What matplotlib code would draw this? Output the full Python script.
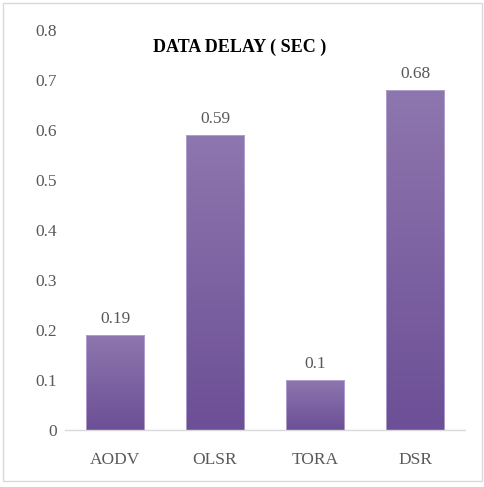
import matplotlib
matplotlib.use("Agg")
import matplotlib.pyplot as plt
import numpy as np
from matplotlib.colors import LinearSegmentedColormap
from matplotlib.patches import Rectangle

categories = ["AODV", "OLSR", "TORA", "DSR"]
values = [0.19, 0.59, 0.1, 0.68]
yticks = [0, 0.1, 0.2, 0.3, 0.4, 0.5, 0.6, 0.7, 0.8]
title = "DATA DELAY ( SEC )"

plt.rcParams['font.family'] = ['Liberation Serif', 'DejaVu Serif']
txt = '#595959'

fig = plt.figure(figsize=(4.85, 4.87), dpi=100)
ax = fig.add_axes([0.134, 0.117, 0.825, 0.821])

x = np.arange(len(categories))
bars = ax.bar(x, values, width=0.58, color='#7d62a2', edgecolor='#b9a6d4', linewidth=0.6, zorder=2)
cmap = LinearSegmentedColormap.from_list('g', ['#6c4f96', '#8e76ae'])
grad = np.linspace(0, 1, 256).reshape(-1, 1)
for b in bars:
    bx, by = b.get_x(), b.get_y()
    w, h = b.get_width(), b.get_height()
    im = ax.imshow(grad, cmap=cmap, origin='lower', aspect='auto',
                   extent=[bx, bx + w, by, by + h], zorder=2.5)
    im.set_clip_path(b)
    ax.add_patch(Rectangle((bx, by), w, h, fill=False, edgecolor='#b9a6d4', linewidth=0.6, zorder=3))

for xi, v in zip(x, values):
    ax.text(xi, v + 0.017, f"{v:g}", ha='center', va='bottom', fontsize=12.5, color=txt)

ax.set_xlim(-0.5, len(categories) - 0.5)
ax.set_ylim(0, 0.8)
ax.set_yticks(yticks)
ax.set_yticklabels([f"{t:g}" for t in yticks])
ax.set_xticks(x)
ax.set_xticklabels(categories)
ax.tick_params(axis='both', length=0, labelsize=12.5, colors=txt)
ax.tick_params(axis='y', pad=6)
ax.tick_params(axis='x', pad=16)
for s in ['top', 'right', 'left']:
    ax.spines[s].set_visible(False)
ax.spines['bottom'].set_color('#d9d9d9')
ax.spines['bottom'].set_linewidth(1)

fig.text(240 / 485, 1 - 47 / 487, title, ha='center', va='center', fontsize=13,
         fontweight='bold', color='black')

fig.add_artist(Rectangle((3 / 485, 6 / 487), 479 / 485, 478 / 487, transform=fig.transFigure,
                         fill=False, edgecolor='#d9d9d9', linewidth=1))

fig.savefig('out.png', dpi=100)
